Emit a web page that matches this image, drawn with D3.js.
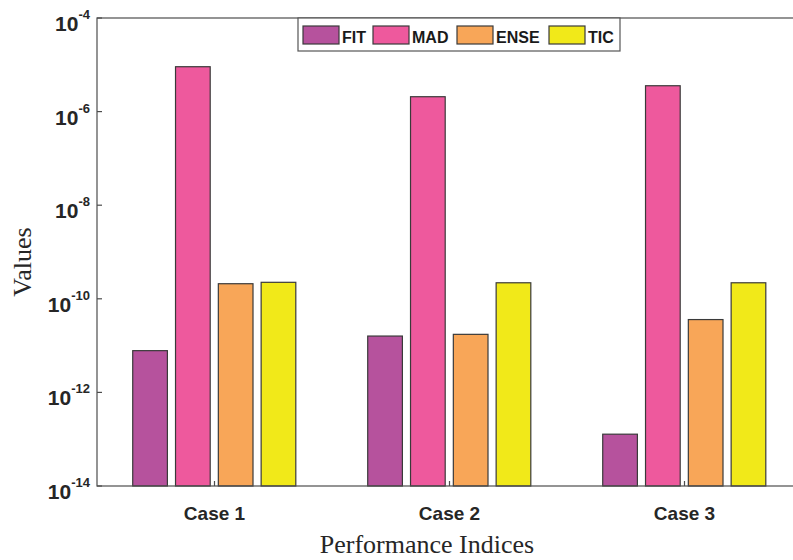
<!DOCTYPE html>
<html>
<head>
<meta charset="utf-8">
<script src="https://cdn.jsdelivr.net/npm/d3@7"></script>
<style>
  html, body { margin: 0; padding: 0; background: #fff; }
  svg { display: block; }
</style>
</head>
<body>
<svg id="chart" width="793" height="560"></svg>
<script>
// Performance indices per case (log scale)
const cases = ["Case 1", "Case 2", "Case 3"];
const seriesNames = ["FIT", "MAD", "ENSE", "TIC"];
const fitValues  = [7.8e-12, 1.6e-11, 1.28e-13];
const madValues  = [9.1e-6, 2.08e-6, 3.57e-6];
const enseValues = [2.1e-10, 1.74e-11, 3.6e-11];
const ticValues  = [2.25e-10, 2.2e-10, 2.2e-10];
const yTickExponents = [-14, -12, -10, -8, -6, -4];
const seriesColors = ["#b6529d", "#ee599d", "#f8a658", "#f1e919"];

const seriesValues = [fitValues, madValues, enseValues, ticValues];
const rows = cases.map((c, i) => ({
  name: c,
  values: seriesNames.map((s, j) => ({ key: s, value: seriesValues[j][i] }))
}));

const svg = d3.select("#chart");
const margin = { left: 97, top: 18, right: 802, bottom: 486 };

const x0 = d3.scaleBand().domain(cases).range([margin.left, margin.right]).padding(0);
const bw = x0.bandwidth();
const x1 = d3.scaleBand().domain(seriesNames)
  .range([bw * 0.152, bw * 0.846]).paddingInner(0.19).paddingOuter(0);
const y = d3.scaleLog().domain([1e-14, 1e-4]).range([margin.bottom, margin.top]);
const color = d3.scaleOrdinal().domain(seriesNames).range(seriesColors);

// bars
const groups = svg.append("g").selectAll("g").data(rows).join("g")
  .attr("transform", d => `translate(${x0(d.name)},0)`);
groups.selectAll("rect").data(d => d.values).join("rect")
  .attr("x", d => x1(d.key))
  .attr("width", x1.bandwidth())
  .attr("y", d => y(d.value))
  .attr("height", d => y(1e-14) - y(d.value))
  .attr("fill", d => color(d.key))
  .attr("stroke", "#3a3a3a")
  .attr("stroke-width", 1.2);

// frame
svg.append("rect")
  .attr("x", margin.left).attr("y", margin.top)
  .attr("width", margin.right - margin.left)
  .attr("height", margin.bottom - margin.top)
  .attr("fill", "none").attr("stroke", "#4d4d4d").attr("stroke-width", 1.2);

// y axis ticks and labels
const yAxis = svg.append("g");
yTickExponents.forEach(e => {
  const v = Math.pow(10, e);
  const yy = y(v);
  yAxis.append("line")
    .attr("x1", margin.left).attr("x2", margin.left + 5)
    .attr("y1", yy).attr("y2", yy)
    .attr("stroke", "#4d4d4d").attr("stroke-width", 1.2);
  const t = yAxis.append("text")
    .attr("x", 90).attr("y", yy + 13)
    .attr("text-anchor", "end")
    .attr("font-family", "Liberation Sans, Arial, sans-serif")
    .attr("font-weight", "bold")
    .attr("fill", "#262626");
  t.append("tspan").attr("font-size", 21).text("10");
  t.append("tspan").attr("font-size", 13).attr("dy", -12).text(String(e));
});

// x axis ticks and labels
const xAxis = svg.append("g");
cases.forEach(c => {
  const xx = x0(c) + bw / 2;
  xAxis.append("line")
    .attr("x1", xx).attr("x2", xx)
    .attr("y1", margin.bottom).attr("y2", margin.bottom - 5)
    .attr("stroke", "#4d4d4d").attr("stroke-width", 1.2);
  xAxis.append("text")
    .attr("x", xx).attr("y", margin.bottom + 34)
    .attr("text-anchor", "middle")
    .attr("font-family", "Liberation Sans, Arial, sans-serif")
    .attr("font-weight", "bold")
    .attr("font-size", 19)
    .attr("fill", "#262626")
    .text(c);
});

// axis titles
svg.append("text")
  .attr("transform", `translate(31,262) rotate(-90)`)
  .attr("text-anchor", "middle")
  .attr("font-family", "Liberation Serif, Times New Roman, serif")
  .attr("font-size", 26)
  .attr("fill", "#262626")
  .text("Values");
svg.append("text")
  .attr("x", 427).attr("y", 553)
  .attr("text-anchor", "middle")
  .attr("font-family", "Liberation Serif, Times New Roman, serif")
  .attr("font-size", 26)
  .attr("fill", "#262626")
  .text("Performance Indices");

// legend
const legend = svg.append("g");
legend.append("rect")
  .attr("x", 298).attr("y", 18).attr("width", 322).attr("height", 33)
  .attr("fill", "#fff").attr("stroke", "#555").attr("stroke-width", 1.2);
const legendX = [303, 373, 457, 549];
seriesNames.forEach((s, i) => {
  legend.append("rect")
    .attr("x", legendX[i]).attr("y", 26)
    .attr("width", 36).attr("height", 18)
    .attr("fill", color(s)).attr("stroke", "#3a3a3a").attr("stroke-width", 1.2);
  legend.append("text")
    .attr("x", legendX[i] + 39).attr("y", 43)
    .attr("font-family", "Liberation Sans, Arial, sans-serif")
    .attr("font-weight", "bold")
    .attr("font-size", 16)
    .attr("fill", "#1a1a1a")
    .text(s);
});
</script>
</body>
</html>
